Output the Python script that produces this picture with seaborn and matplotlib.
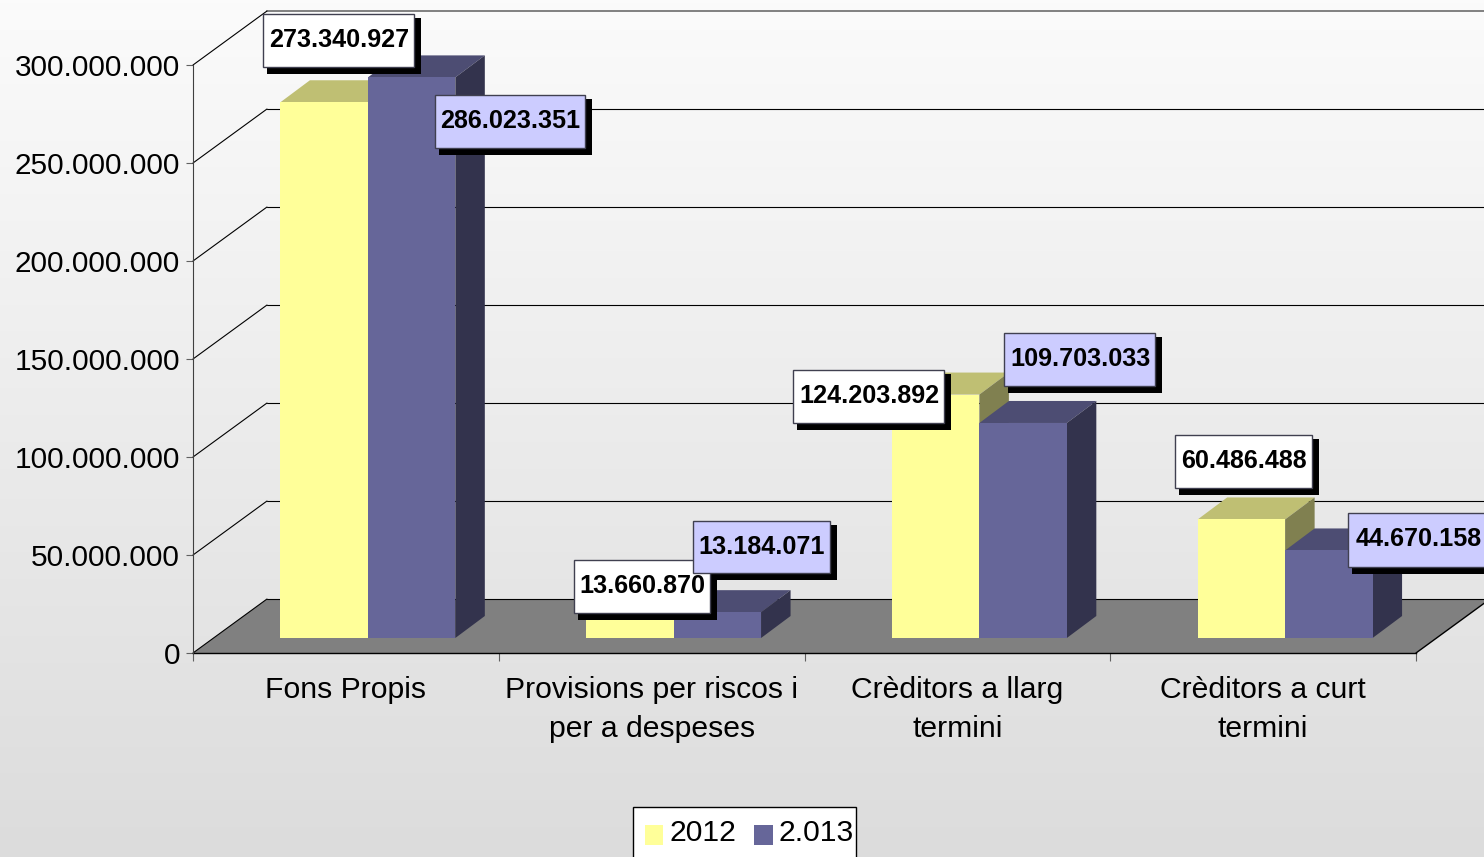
from matplotlib.patches import Polygon, Rectangle
from matplotlib.transforms import Affine2D, IdentityTransform
import matplotlib.pyplot as plt
import numpy as np
import pandas as pd
import seaborn as sns

categories = [
    "Fons Propis",
    "Provisions per riscos i\nper a despeses",
    "Crèditors a llarg\ntermini",
    "Crèditors a curt\ntermini",
]
series_names = ["2012", "2.013"]
values_2012 = [273340927, 13660870, 124203892, 60486488]
values_2013 = [286023351, 13184071, 109703033, 44670158]
y_ticks = [0, 50000000, 100000000, 150000000, 200000000, 250000000, 300000000]

# label boxes in image pixels: left, top, right, bottom
boxes_2012 = [(263, 14, 414, 67), (574, 560, 710, 613), (793, 370, 944, 423), (1175, 435, 1312, 488)]
boxes_2013 = [(435, 95, 585, 148), (693, 521, 830, 573), (1004, 333, 1155, 386), (1348, 513, 1500, 567)]

W, H = 1484, 857
# fake 3D, all in pixels
WALL_DX, WALL_DY = 74, 54
BAR_DX, BAR_DY = 22, 15
DEPTH_DX, DEPTH_DY = 29.5, 22

FRONT = ["#FFFF99", "#666699"]
TOP = ["#BFBF73", "#4D4D73"]
SIDE = ["#808050", "#33334D"]
BOX_FACE = ["#FFFFFF", "#CCCCFF"]


def dotted(v):
    return f"{v:,}".replace(",", ".")


def shifted(ax, dx, dy):
    return ax.transData + Affine2D().translate(dx, dy)


sns.set_theme(style="white")
plt.rcParams["font.family"] = ["Liberation Sans", "DejaVu Sans"]

fig = plt.figure(figsize=(W / 100, H / 100), dpi=100)

# background gradient
bg = fig.add_axes([0, 0, 1, 1], zorder=-1)
bg.imshow(
    np.linspace(0, 1, 256).reshape(-1, 1),
    aspect="auto",
    cmap=sns.blend_palette(["#FBFBFB", "#DCDCDC"], as_cmap=True),
)
bg.axis("off")

ax = fig.add_axes([193 / W, 1 - 653 / H, (1416 - 193) / W, (653 - 65) / H])
ax.patch.set_alpha(0)

df = pd.DataFrame(
    {
        "categoria": categories * 2,
        "serie": [series_names[0]] * 4 + [series_names[1]] * 4,
        "valor": values_2012 + values_2013,
    }
)
sns.barplot(
    data=df,
    x="categoria",
    y="valor",
    hue="serie",
    palette=FRONT,
    saturation=1,
    width=0.572,
    gap=0,
    linewidth=0,
    ax=ax,
)
ax.set_xlim(-0.5, 3.5)
ax.set_ylim(0, 300000000)
ax.set_xlabel("")
ax.set_ylabel("")

# Floor and back wall
x_end = 3.5
x0, y0 = ax.transData.transform((-0.5, 0))
x1, _ = ax.transData.transform((x_end, 0))
ax.add_patch(
    Polygon(
        [(x0, y0), (x0 + WALL_DX, y0 + WALL_DY), (x1 + WALL_DX, y0 + WALL_DY), (x1, y0)],
        facecolor="#808080",
        edgecolor="none",
        transform=IdentityTransform(),
        clip_on=False,
        zorder=1,
    )
)
ax.plot(
    [x1, x1 + WALL_DX], [y0, y0 + WALL_DY], color="black", lw=1,
    transform=IdentityTransform(), clip_on=False, zorder=1.6,
)
for t in y_ticks:
    top_line = t == y_ticks[-1]
    ax.plot(
        [-0.5, x_end], [t, t],
        color="#808080" if top_line else "black",
        lw=1.4 if top_line else 0.8,
        transform=shifted(ax, WALL_DX, WALL_DY),
        clip_on=False,
        zorder=1.5,
    )
    px, py = ax.transData.transform((-0.5, t))
    ax.plot(
        [px, px + WALL_DX], [py, py + WALL_DY], color="black", lw=0.8,
        transform=IdentityTransform(), clip_on=False, zorder=1.5,
    )

# Bars: seaborn draws the fronts, tops and sides follow from the bar geometry
offset = shifted(ax, BAR_DX, BAR_DY)
for s, container in enumerate(ax.containers):
    for patch in container:
        patch.set_transform(offset)
        patch.set_clip_on(False)
        patch.set_zorder(3.5 + s)
        bx, by = patch.get_x(), patch.get_height()
        (xa, ya), (xb, yb) = offset.transform([(bx, 0), (bx + patch.get_width(), by)])
        ax.add_patch(
            Polygon(
                [(xa, yb), (xb, yb), (xb + DEPTH_DX, yb + DEPTH_DY), (xa + DEPTH_DX, yb + DEPTH_DY)],
                facecolor=TOP[s], edgecolor="none",
                transform=IdentityTransform(), clip_on=False, zorder=3 + s,
            )
        )
        ax.add_patch(
            Polygon(
                [(xb, ya), (xb, yb), (xb + DEPTH_DX, yb + DEPTH_DY), (xb + DEPTH_DX, ya + DEPTH_DY)],
                facecolor=SIDE[s], edgecolor="none",
                transform=IdentityTransform(), clip_on=False, zorder=3 + s,
            )
        )

# Axes furniture
sns.despine(ax=ax)
ax.spines["left"].set_color("#404040")
ax.spines["left"].set_linewidth(0.8)
ax.spines["bottom"].set_color("black")
ax.spines["bottom"].set_linewidth(1)
ax.spines["bottom"].set_zorder(1.7)
ax.set_yticks(y_ticks)
ax.set_yticklabels([dotted(t) for t in y_ticks])
ax.set_xticks(np.arange(-0.5, 4), minor=True)
ax.tick_params(axis="y", length=5, width=0.8, color="#606060", pad=4.3, labelsize=21.4, labelcolor="black", left=True)
ax.tick_params(axis="x", which="major", length=0, pad=16.4, labelsize=21.7, labelcolor="black")
ax.tick_params(axis="x", which="minor", length=5.8, width=0.8, color="#606060", bottom=True)
for lab in ax.get_xticklabels():
    lab.set_linespacing(1.5)

# Value label boxes with hard shadows
z_shadow = {1: 10, 0: 11}
z_box = {0: 12, 1: 13}
for s, (boxes, vals) in enumerate(zip([boxes_2012, boxes_2013], [values_2012, values_2013])):
    for (l, t, r, b), v in zip(boxes, vals):
        fig.add_artist(
            Rectangle(
                (l + 4, H - b - 7), r - l + 3, b - t + 3,
                facecolor="black", edgecolor="none",
                transform=IdentityTransform(), zorder=z_shadow[s],
            )
        )
        fig.add_artist(
            Rectangle(
                (l, H - b), r - l, b - t,
                facecolor=BOX_FACE[s], edgecolor="#404050", linewidth=1,
                transform=IdentityTransform(), zorder=z_box[s],
            )
        )
        cx = (l + r) / 2 if r <= W else l + 70
        fig.text(
            cx + 0.5, H - (t + b) / 2 + 0.5, dotted(v),
            ha="center", va="center", fontsize=18.1, fontweight="bold", color="black",
            transform=IdentityTransform(), zorder=14,
        )

# Legend, its frame runs off the bottom edge like the original
ax.add_patch(
    Rectangle(
        (633, -5), 856 - 633, H - 807 + 5,
        facecolor="white", edgecolor="black", linewidth=1,
        transform=IdentityTransform(), clip_on=False, zorder=19,
    )
)
sns.move_legend(
    ax,
    "upper left",
    bbox_to_anchor=(634 / W, 1 - 808 / H),
    bbox_transform=fig.transFigure,
    ncol=2,
    title=None,
    frameon=False,
    fontsize=21.7,
    labelcolor="black",
    handlelength=0.62,
    handleheight=0.62,
    handletextpad=0.2,
    columnspacing=0.6,
    borderpad=0.35,
    borderaxespad=0,
)
legend = ax.get_legend()
legend.set_zorder(20)
for handle in legend.legend_handles:
    handle.set_y(handle.get_y() - 3.6)

fig.savefig("out.png", dpi=100)
plt.close(fig)
